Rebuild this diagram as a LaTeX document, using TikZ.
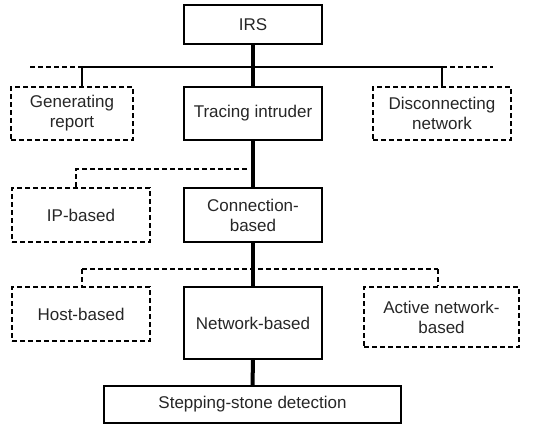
\documentclass[tikz,border=0pt]{standalone}
\usepackage{fontspec}
\setmainfont{Liberation Sans}
\usepackage{tikz}
\usetikzlibrary{positioning}
\tikzset{
  box/.style={draw, line width=1.1pt, align=center, inner sep=0pt,
    text=black!85, font=\fontsize{17}{20}\selectfont},
  optbox/.style={box, dash pattern=on 5pt off 3pt},
  trunk/.style={line width=4pt},
  link/.style={line width=1.1pt},
  optlink/.style={link, dash pattern=on 5pt off 3pt}
}

\begin{document}
\begin{tikzpicture}[x=1pt,y=-1pt]
      \useasboundingbox (0,0) rectangle (548,426);

      \node [box, minimum width=138pt, minimum height=39pt] (irs) at (253,24.5) {IRS};
      \node [optbox, minimum width=122pt, minimum height=53pt] (gen) at (72,113.5) {Generating\\report};
      \node [box, minimum width=138pt, minimum height=53pt] (trace) at (253,113.5) {Tracing intruder};
      \node [optbox, minimum width=138pt, minimum height=53pt] (disc) at (442,113.5) {Disconnecting\\network};
      \node [optbox, minimum width=138pt, minimum height=54pt] (ip) at (81,215) {IP-based};
      \node [box, minimum width=138pt, minimum height=54pt] (conn) at (253,215) {Connection-\\based};
      \node [optbox, minimum width=138pt, minimum height=54pt] (host) at (81,314) {Host-based};
      \node [box, minimum width=138pt, minimum height=72pt] (net) at (253,323) {Network-based};
      \node [optbox, minimum width=155pt, minimum height=60pt] (active) at (441.5,317) {Active network-\\based};
      \node [box, minimum width=297pt, minimum height=37pt] (stone) at (252.5,404.5) {Stepping-stone detection};

      % branch points
      \coordinate (genTop) at (82,67);
      \coordinate (discTop) at (442,67);
      \coordinate (barL) at (30,67);
      \coordinate (barR) at (493,67);
      \coordinate (ipBar) at (247,169);
      \coordinate (ipTop) at (76,169);
      \coordinate (hostTop) at (82,269);
      \coordinate (activeTop) at (438,269);

      % main path
      \draw [trunk] (irs.south) -- (trace.north);
      \draw [trunk] (trace.south) -- (conn.north);
      \draw [trunk] (conn.south) -- (net.north);
      \draw [trunk] (net.south) -- (stone.north);

      % first level
      \draw [link] (genTop) -- (discTop);
      \draw [optlink] (barL) -- (genTop);
      \draw [optlink] (discTop) -- (barR);
      \draw [link] (genTop) -- (genTop |- gen.north);
      \draw [link] (discTop) -- (disc.north);

      % second level
      \draw [optlink] (ipBar) -- (ipTop) -- (ipTop |- ip.north);

      % third level
      \draw [optlink] (hostTop) -- (activeTop);
      \draw [optlink] (hostTop) -- (hostTop |- host.north);
      \draw [optlink] (activeTop) -- (activeTop |- active.north);
  \end{tikzpicture}
\end{document}
